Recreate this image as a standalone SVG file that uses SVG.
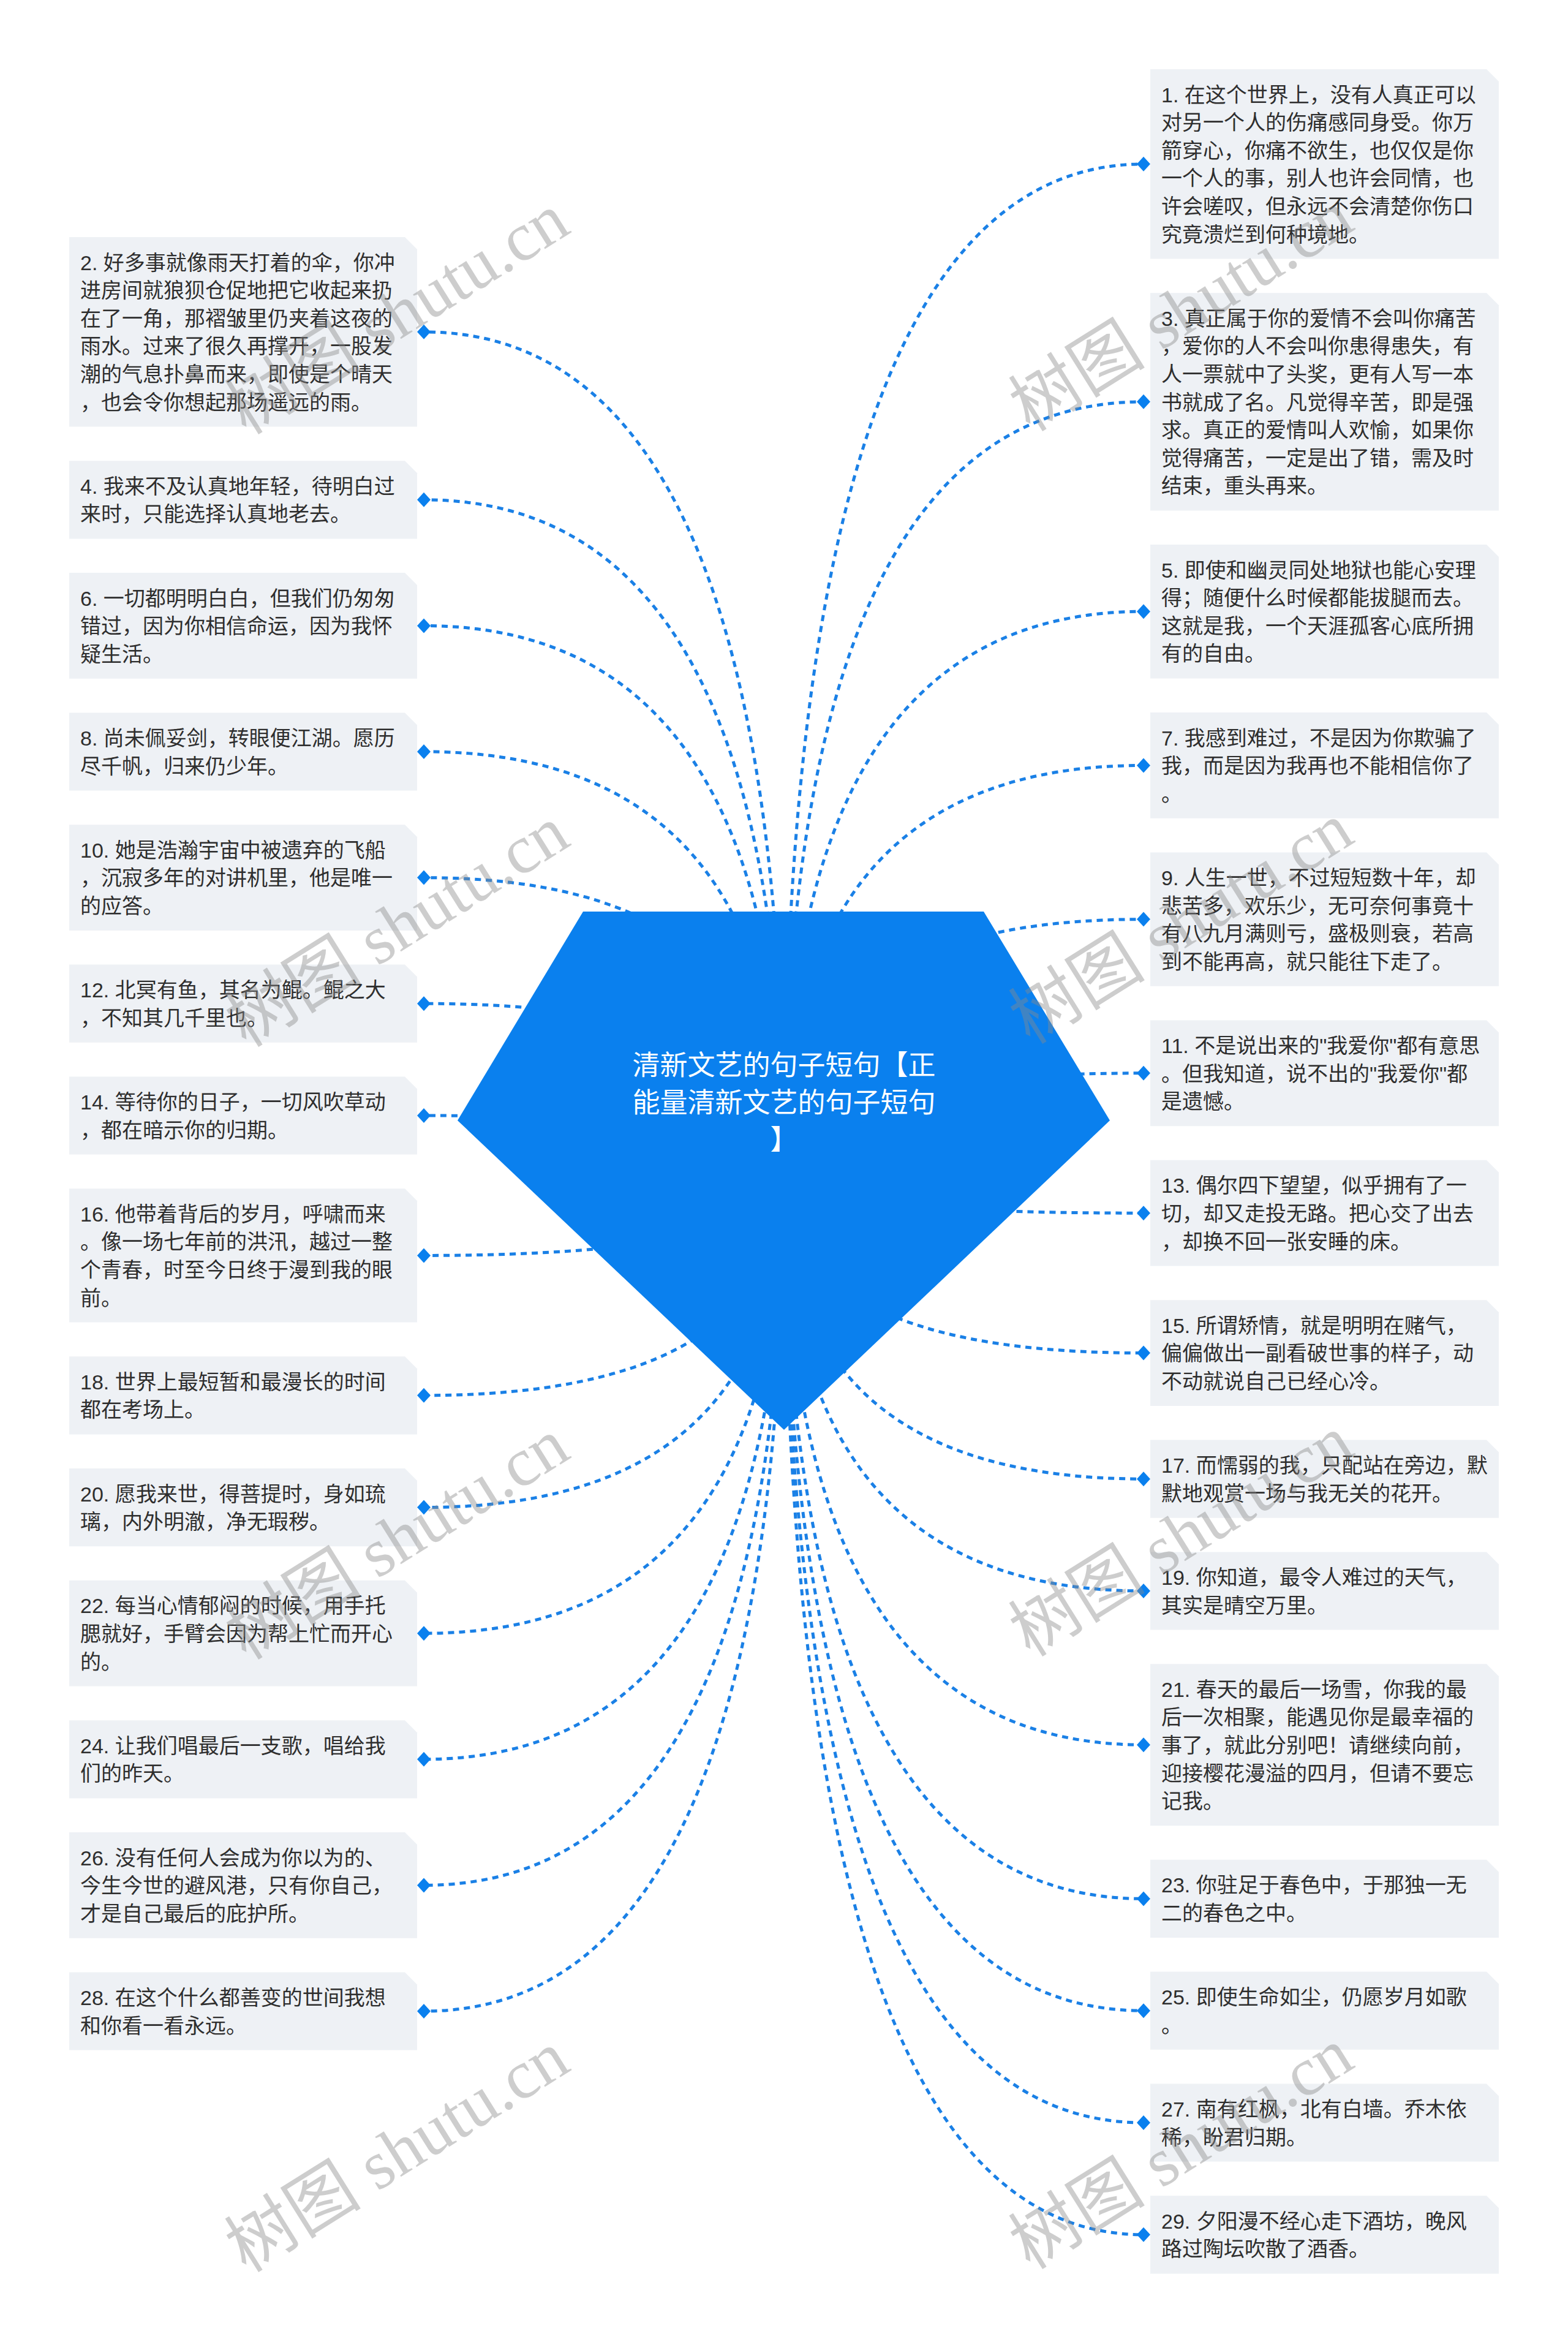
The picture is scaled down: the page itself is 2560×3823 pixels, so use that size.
<svg xmlns="http://www.w3.org/2000/svg" width="2560" height="3823" viewBox="0 0 2560 3823">
<style>
.bg{fill:#ffffff}
.box{fill:#eef1f5}
.t{font-family:"Liberation Sans","Noto Sans CJK SC",sans-serif;font-size:34px;fill:#2e2e2e}
.ct{font-family:"Liberation Sans","Noto Sans CJK SC",sans-serif;font-size:45px;fill:#ffffff;text-anchor:middle}
.ln{fill:none;stroke:#1a80e6;stroke-width:5;stroke-dasharray:10 8}
.mk{fill:#0a80ee}
.wm{font-family:"Liberation Serif","Noto Sans CJK SC",serif;font-size:112px;fill:#8a8a8a;opacity:0.42;text-anchor:middle}
</style>
<defs>
<polygon id="dm" points="-11,0 0,-12 11,0 0,12"/>
</defs>
<rect class="bg" x="0" y="0" width="2560" height="3823"/>
<g id="connectors">
<path class="ln" d="M1280 1911 Q1280 267.8 1867 267.8"/>
<path class="ln" d="M1280 1911 Q1280 655.8 1867 655.8"/>
<path class="ln" d="M1280 1911 Q1280 998.2 1867 998.2"/>
<path class="ln" d="M1280 1911 Q1280 1249.4 1867 1249.4"/>
<path class="ln" d="M1280 1911 Q1280 1500.6 1867 1500.6"/>
<path class="ln" d="M1280 1911 Q1280 1751.8 1867 1751.8"/>
<path class="ln" d="M1280 1911 Q1280 1980.2 1867 1980.2"/>
<path class="ln" d="M1280 1911 Q1280 2208.6 1867 2208.6"/>
<path class="ln" d="M1280 1911 Q1280 2414.2 1867 2414.2"/>
<path class="ln" d="M1280 1911 Q1280 2597 1867 2597"/>
<path class="ln" d="M1280 1911 Q1280 2848.2 1867 2848.2"/>
<path class="ln" d="M1280 1911 Q1280 3099.4 1867 3099.4"/>
<path class="ln" d="M1280 1911 Q1280 3282.2 1867 3282.2"/>
<path class="ln" d="M1280 1911 Q1280 3465 1867 3465"/>
<path class="ln" d="M1280 1911 Q1280 3647.8 1867 3647.8"/>
<path class="ln" d="M1280 1911 Q1280 541.8 692 541.8"/>
<path class="ln" d="M1280 1911 Q1280 815.8 692 815.8"/>
<path class="ln" d="M1280 1911 Q1280 1021.4 692 1021.4"/>
<path class="ln" d="M1280 1911 Q1280 1227 692 1227"/>
<path class="ln" d="M1280 1911 Q1280 1432.6 692 1432.6"/>
<path class="ln" d="M1280 1911 Q1280 1638.2 692 1638.2"/>
<path class="ln" d="M1280 1911 Q1280 1821 692 1821"/>
<path class="ln" d="M1280 1911 Q1280 2049.4 692 2049.4"/>
<path class="ln" d="M1280 1911 Q1280 2277.8 692 2277.8"/>
<path class="ln" d="M1280 1911 Q1280 2460.6 692 2460.6"/>
<path class="ln" d="M1280 1911 Q1280 2666.2 692 2666.2"/>
<path class="ln" d="M1280 1911 Q1280 2871.8 692 2871.8"/>
<path class="ln" d="M1280 1911 Q1280 3077.4 692 3077.4"/>
<path class="ln" d="M1280 1911 Q1280 3283 692 3283"/>
</g>
<g id="center">
<polygon fill="#0a80ee" points="952,1488 1606,1488 1812,1829 1280,2334 747,1829"/>
<text class="ct" x="1280" y="1755">清新文艺的句子短句【正</text>
<text class="ct" x="1280" y="1816">能量清新文艺的句子短句</text>
<text class="ct" x="1280" y="1877">】</text>
</g>
<g id="markers">
<use href="#dm" class="mk" x="1867" y="267.8"/>
<use href="#dm" class="mk" x="1867" y="655.8"/>
<use href="#dm" class="mk" x="1867" y="998.2"/>
<use href="#dm" class="mk" x="1867" y="1249.4"/>
<use href="#dm" class="mk" x="1867" y="1500.6"/>
<use href="#dm" class="mk" x="1867" y="1751.8"/>
<use href="#dm" class="mk" x="1867" y="1980.2"/>
<use href="#dm" class="mk" x="1867" y="2208.6"/>
<use href="#dm" class="mk" x="1867" y="2414.2"/>
<use href="#dm" class="mk" x="1867" y="2597"/>
<use href="#dm" class="mk" x="1867" y="2848.2"/>
<use href="#dm" class="mk" x="1867" y="3099.4"/>
<use href="#dm" class="mk" x="1867" y="3282.2"/>
<use href="#dm" class="mk" x="1867" y="3465"/>
<use href="#dm" class="mk" x="1867" y="3647.8"/>
<use href="#dm" class="mk" x="692" y="541.8"/>
<use href="#dm" class="mk" x="692" y="815.8"/>
<use href="#dm" class="mk" x="692" y="1021.4"/>
<use href="#dm" class="mk" x="692" y="1227"/>
<use href="#dm" class="mk" x="692" y="1432.6"/>
<use href="#dm" class="mk" x="692" y="1638.2"/>
<use href="#dm" class="mk" x="692" y="1821"/>
<use href="#dm" class="mk" x="692" y="2049.4"/>
<use href="#dm" class="mk" x="692" y="2277.8"/>
<use href="#dm" class="mk" x="692" y="2460.6"/>
<use href="#dm" class="mk" x="692" y="2666.2"/>
<use href="#dm" class="mk" x="692" y="2871.8"/>
<use href="#dm" class="mk" x="692" y="3077.4"/>
<use href="#dm" class="mk" x="692" y="3283"/>
</g>
<g id="n1"><path class="box" d="M1878 113 H2427 L2447 133 V422.6 H1878 Z"/><text class="t" x="1896" y="166.5"><tspan x="1896">1. 在这个世界上，没有人真正可以</tspan><tspan x="1896" dy="45.6">对另一个人的伤痛感同身受。你万</tspan><tspan x="1896" dy="45.6">箭穿心，你痛不欲生，也仅仅是你</tspan><tspan x="1896" dy="45.6">一个人的事，别人也许会同情，也</tspan><tspan x="1896" dy="45.6">许会嗟叹，但永远不会清楚你伤口</tspan><tspan x="1896" dy="45.6">究竟溃烂到何种境地。</tspan></text></g>
<g id="n3"><path class="box" d="M1878 478.2 H2427 L2447 498.2 V833.4 H1878 Z"/><text class="t" x="1896" y="531.7"><tspan x="1896">3. 真正属于你的爱情不会叫你痛苦</tspan><tspan x="1896" dy="45.6">，爱你的人不会叫你患得患失，有</tspan><tspan x="1896" dy="45.6">人一票就中了头奖，更有人写一本</tspan><tspan x="1896" dy="45.6">书就成了名。凡觉得辛苦，即是强</tspan><tspan x="1896" dy="45.6">求。真正的爱情叫人欢愉，如果你</tspan><tspan x="1896" dy="45.6">觉得痛苦，一定是出了错，需及时</tspan><tspan x="1896" dy="45.6">结束，重头再来。</tspan></text></g>
<g id="n5"><path class="box" d="M1878 889 H2427 L2447 909 V1107.4 H1878 Z"/><text class="t" x="1896" y="942.5"><tspan x="1896">5. 即使和幽灵同处地狱也能心安理</tspan><tspan x="1896" dy="45.6">得；随便什么时候都能拔腿而去。</tspan><tspan x="1896" dy="45.6">这就是我，一个天涯孤客心底所拥</tspan><tspan x="1896" dy="45.6">有的自由。</tspan></text></g>
<g id="n7"><path class="box" d="M1878 1163 H2427 L2447 1183 V1335.8 H1878 Z"/><text class="t" x="1896" y="1216.5"><tspan x="1896">7. 我感到难过，不是因为你欺骗了</tspan><tspan x="1896" dy="45.6">我，而是因为我再也不能相信你了</tspan><tspan x="1896" dy="45.6">。</tspan></text></g>
<g id="n9"><path class="box" d="M1878 1391.4 H2427 L2447 1411.4 V1609.8 H1878 Z"/><text class="t" x="1896" y="1444.9"><tspan x="1896">9. 人生一世，不过短短数十年，却</tspan><tspan x="1896" dy="45.6">悲苦多，欢乐少，无可奈何事竟十</tspan><tspan x="1896" dy="45.6">有八九月满则亏，盛极则衰，若高</tspan><tspan x="1896" dy="45.6">到不能再高，就只能往下走了。</tspan></text></g>
<g id="n11"><path class="box" d="M1878 1665.4 H2427 L2447 1685.4 V1838.2 H1878 Z"/><text class="t" x="1896" y="1718.9"><tspan x="1896">11. 不是说出来的"我爱你"都有意思</tspan><tspan x="1896" dy="45.6">。但我知道，说不出的"我爱你"都</tspan><tspan x="1896" dy="45.6">是遗憾。</tspan></text></g>
<g id="n13"><path class="box" d="M1878 1893.8 H2427 L2447 1913.8 V2066.6 H1878 Z"/><text class="t" x="1896" y="1947.3"><tspan x="1896">13. 偶尔四下望望，似乎拥有了一</tspan><tspan x="1896" dy="45.6">切，却又走投无路。把心交了出去</tspan><tspan x="1896" dy="45.6">，却换不回一张安睡的床。</tspan></text></g>
<g id="n15"><path class="box" d="M1878 2122.2 H2427 L2447 2142.2 V2295 H1878 Z"/><text class="t" x="1896" y="2175.7"><tspan x="1896">15. 所谓矫情，就是明明在赌气，</tspan><tspan x="1896" dy="45.6">偏偏做出一副看破世事的样子，动</tspan><tspan x="1896" dy="45.6">不动就说自己已经心冷。</tspan></text></g>
<g id="n17"><path class="box" d="M1878 2350.6 H2427 L2447 2370.6 V2477.8 H1878 Z"/><text class="t" x="1896" y="2404.1"><tspan x="1896">17. 而懦弱的我，只配站在旁边，默</tspan><tspan x="1896" dy="45.6">默地观赏一场与我无关的花开。</tspan></text></g>
<g id="n19"><path class="box" d="M1878 2533.4 H2427 L2447 2553.4 V2660.6 H1878 Z"/><text class="t" x="1896" y="2586.9"><tspan x="1896">19. 你知道，最令人难过的天气，</tspan><tspan x="1896" dy="45.6">其实是晴空万里。</tspan></text></g>
<g id="n21"><path class="box" d="M1878 2716.2 H2427 L2447 2736.2 V2980.2 H1878 Z"/><text class="t" x="1896" y="2769.7"><tspan x="1896">21. 春天的最后一场雪，你我的最</tspan><tspan x="1896" dy="45.6">后一次相聚，能遇见你是最幸福的</tspan><tspan x="1896" dy="45.6">事了，就此分别吧！请继续向前，</tspan><tspan x="1896" dy="45.6">迎接樱花漫溢的四月，但请不要忘</tspan><tspan x="1896" dy="45.6">记我。</tspan></text></g>
<g id="n23"><path class="box" d="M1878 3035.8 H2427 L2447 3055.8 V3163 H1878 Z"/><text class="t" x="1896" y="3089.3"><tspan x="1896">23. 你驻足于春色中，于那独一无</tspan><tspan x="1896" dy="45.6">二的春色之中。</tspan></text></g>
<g id="n25"><path class="box" d="M1878 3218.6 H2427 L2447 3238.6 V3345.8 H1878 Z"/><text class="t" x="1896" y="3272.1"><tspan x="1896">25. 即使生命如尘，仍愿岁月如歌</tspan><tspan x="1896" dy="45.6">。</tspan></text></g>
<g id="n27"><path class="box" d="M1878 3401.4 H2427 L2447 3421.4 V3528.6 H1878 Z"/><text class="t" x="1896" y="3454.9"><tspan x="1896">27. 南有红枫，北有白墙。乔木依</tspan><tspan x="1896" dy="45.6">稀，盼君归期。</tspan></text></g>
<g id="n29"><path class="box" d="M1878 3584.2 H2427 L2447 3604.2 V3711.4 H1878 Z"/><text class="t" x="1896" y="3637.7"><tspan x="1896">29. 夕阳漫不经心走下酒坊，晚风</tspan><tspan x="1896" dy="45.6">路过陶坛吹散了酒香。</tspan></text></g>
<g id="n2"><path class="box" d="M113 387 H661 L681 407 V696.6 H113 Z"/><text class="t" x="131" y="440.5"><tspan x="131">2. 好多事就像雨天打着的伞，你冲</tspan><tspan x="131" dy="45.6">进房间就狼狈仓促地把它收起来扔</tspan><tspan x="131" dy="45.6">在了一角，那褶皱里仍夹着这夜的</tspan><tspan x="131" dy="45.6">雨水。过来了很久再撑开，一股发</tspan><tspan x="131" dy="45.6">潮的气息扑鼻而来，即使是个晴天</tspan><tspan x="131" dy="45.6">，也会令你想起那场遥远的雨。</tspan></text></g>
<g id="n4"><path class="box" d="M113 752.2 H661 L681 772.2 V879.4 H113 Z"/><text class="t" x="131" y="805.7"><tspan x="131">4. 我来不及认真地年轻，待明白过</tspan><tspan x="131" dy="45.6">来时，只能选择认真地老去。</tspan></text></g>
<g id="n6"><path class="box" d="M113 935 H661 L681 955 V1107.8 H113 Z"/><text class="t" x="131" y="988.5"><tspan x="131">6. 一切都明明白白，但我们仍匆匆</tspan><tspan x="131" dy="45.6">错过，因为你相信命运，因为我怀</tspan><tspan x="131" dy="45.6">疑生活。</tspan></text></g>
<g id="n8"><path class="box" d="M113 1163.4 H661 L681 1183.4 V1290.6 H113 Z"/><text class="t" x="131" y="1216.9"><tspan x="131">8. 尚未佩妥剑，转眼便江湖。愿历</tspan><tspan x="131" dy="45.6">尽千帆，归来仍少年。</tspan></text></g>
<g id="n10"><path class="box" d="M113 1346.2 H661 L681 1366.2 V1519 H113 Z"/><text class="t" x="131" y="1399.7"><tspan x="131">10. 她是浩瀚宇宙中被遗弃的飞船</tspan><tspan x="131" dy="45.6">，沉寂多年的对讲机里，他是唯一</tspan><tspan x="131" dy="45.6">的应答。</tspan></text></g>
<g id="n12"><path class="box" d="M113 1574.6 H661 L681 1594.6 V1701.8 H113 Z"/><text class="t" x="131" y="1628.1"><tspan x="131">12. 北冥有鱼，其名为鲲。鲲之大</tspan><tspan x="131" dy="45.6">，不知其几千里也。</tspan></text></g>
<g id="n14"><path class="box" d="M113 1757.4 H661 L681 1777.4 V1884.6 H113 Z"/><text class="t" x="131" y="1810.9"><tspan x="131">14. 等待你的日子，一切风吹草动</tspan><tspan x="131" dy="45.6">，都在暗示你的归期。</tspan></text></g>
<g id="n16"><path class="box" d="M113 1940.2 H661 L681 1960.2 V2158.6 H113 Z"/><text class="t" x="131" y="1993.7"><tspan x="131">16. 他带着背后的岁月，呼啸而来</tspan><tspan x="131" dy="45.6">。像一场七年前的洪汛，越过一整</tspan><tspan x="131" dy="45.6">个青春，时至今日终于漫到我的眼</tspan><tspan x="131" dy="45.6">前。</tspan></text></g>
<g id="n18"><path class="box" d="M113 2214.2 H661 L681 2234.2 V2341.4 H113 Z"/><text class="t" x="131" y="2267.7"><tspan x="131">18. 世界上最短暂和最漫长的时间</tspan><tspan x="131" dy="45.6">都在考场上。</tspan></text></g>
<g id="n20"><path class="box" d="M113 2397 H661 L681 2417 V2524.2 H113 Z"/><text class="t" x="131" y="2450.5"><tspan x="131">20. 愿我来世，得菩提时，身如琉</tspan><tspan x="131" dy="45.6">璃，内外明澈，净无瑕秽。</tspan></text></g>
<g id="n22"><path class="box" d="M113 2579.8 H661 L681 2599.8 V2752.6 H113 Z"/><text class="t" x="131" y="2633.3"><tspan x="131">22. 每当心情郁闷的时候，用手托</tspan><tspan x="131" dy="45.6">腮就好，手臂会因为帮上忙而开心</tspan><tspan x="131" dy="45.6">的。</tspan></text></g>
<g id="n24"><path class="box" d="M113 2808.2 H661 L681 2828.2 V2935.4 H113 Z"/><text class="t" x="131" y="2861.7"><tspan x="131">24. 让我们唱最后一支歌，唱给我</tspan><tspan x="131" dy="45.6">们的昨天。</tspan></text></g>
<g id="n26"><path class="box" d="M113 2991 H661 L681 3011 V3163.8 H113 Z"/><text class="t" x="131" y="3044.5"><tspan x="131">26. 没有任何人会成为你以为的、</tspan><tspan x="131" dy="45.6">今生今世的避风港，只有你自己，</tspan><tspan x="131" dy="45.6">才是自己最后的庇护所。</tspan></text></g>
<g id="n28"><path class="box" d="M113 3219.4 H661 L681 3239.4 V3346.6 H113 Z"/><text class="t" x="131" y="3272.9"><tspan x="131">28. 在这个什么都善变的世间我想</tspan><tspan x="131" dy="45.6">和你看一看永远。</tspan></text></g>
<g id="watermarks">
<text class="wm" x="650" y="550" transform="rotate(-32 650 515)">树图 shutu.cn</text>
<text class="wm" x="1930" y="545" transform="rotate(-32 1930 510)">树图 shutu.cn</text>
<text class="wm" x="650" y="1550" transform="rotate(-32 650 1515)">树图 shutu.cn</text>
<text class="wm" x="1930" y="1545" transform="rotate(-32 1930 1510)">树图 shutu.cn</text>
<text class="wm" x="650" y="2550" transform="rotate(-32 650 2515)">树图 shutu.cn</text>
<text class="wm" x="1930" y="2545" transform="rotate(-32 1930 2510)">树图 shutu.cn</text>
<text class="wm" x="650" y="3550" transform="rotate(-32 650 3515)">树图 shutu.cn</text>
<text class="wm" x="1930" y="3545" transform="rotate(-32 1930 3510)">树图 shutu.cn</text>
</g>
</svg>
